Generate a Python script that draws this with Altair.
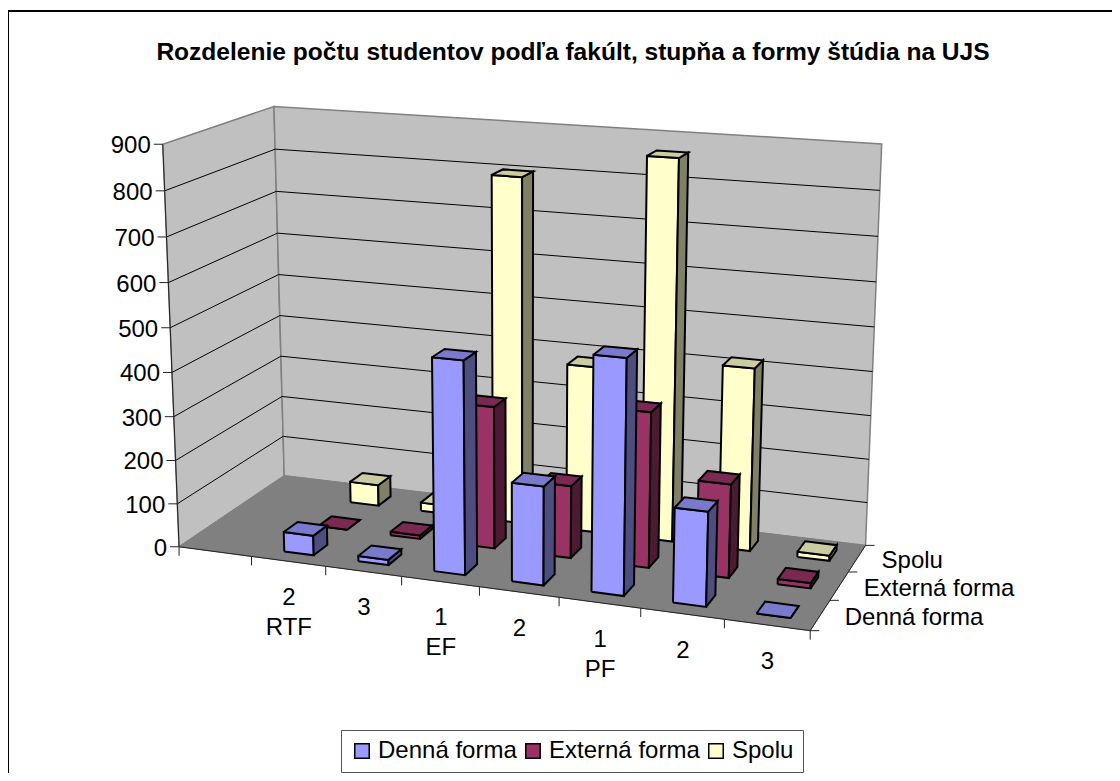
import altair as alt
import numpy as np
import pandas as pd

# ---- data ----
categories = ["", "2", "3", "1", "2", "1", "2", "3"]
groups = ["", "RTF", "", "EF", "", "PF", "", ""]
series_names = ["Denná forma", "Externá forma", "Spolu"]
denna = [None, 45, 12, 476, 220, 515, 207, 0]
externa = [None, 0, 8, 325, 165, 350, 210, 12]
spolu = [None, 50, 20, 800, 385, 865, 417, 12]
y_ticks = [0, 100, 200, 300, 400, 500, 600, 700, 800, 900]
front_colors = ["#9999FF", "#993366", "#FFFFCC"]
top_colors = ["#7A7ACC", "#7A2952", "#CCCCA3"]
side_colors = ["#4D4D80", "#4D1A33", "#808066"]
title_text = "Rozdelenie počtu studentov podľa fakúlt, stupňa a formy štúdia na UJS"
FONT = "Liberation Sans"
FS = 24
H = 765
W = 1104

# ---- camera: fit a perspective projection on the box corners ----
box3d = [(0,0,900),(0,3,900),(0,3,0),(0,0,0),(8,3,0),(8,3,900),(8,0,0)]
box2d = [(162.7,144),(274,106.7),(284,476),(179.3,546.7),(865.7,545),(881.7,144),(810,631)]
A, b = [], []
for (u,v,w),(px,py) in zip(box3d, box2d):
    w1 = w/100
    A.append([u,v,w1,1,0,0,0,0,-px*u,-px*v,-px*w1]); b.append(px)
    A.append([0,0,0,0,u,v,w1,1,-py*u,-py*v,-py*w1]); b.append(py)
p = np.linalg.lstsq(np.array(A,float), np.array(b,float), rcond=None)[0]
P = np.append(p,1).reshape(3,4)
def proj(u,v,w):
    x = P @ np.array([u,v,w/100,1.0])
    return float(x[0]/x[2]), float(x[1]/x[2])

fid = 0
def add_face(rows, pts, fill):
    global fid
    for i,(u,v,w) in enumerate(list(pts)+[pts[0]]):
        x,y = proj(u,v,w)
        rows.append(dict(face=fid, i=i, px=x, py=y, fill=fill))
    fid += 1

X = alt.X("px:Q", scale=alt.Scale(domain=[8,8+W]), axis=None)
Y = alt.Y("py:Q", scale=alt.Scale(domain=[8+H,8]), axis=None)

def polys(rows, stroke, sw):
    return alt.Chart(pd.DataFrame(rows)).mark_line(filled=True, stroke=stroke, strokeWidth=sw, strokeJoin="miter", clip=False).encode(
        x=X, y=Y, detail="face:N", order="i:Q", fill=alt.Fill("fill:N", scale=None, legend=None))

def lines(rows, stroke, sw):
    return alt.Chart(pd.DataFrame(rows)).mark_line(stroke=stroke, strokeWidth=sw).encode(
        x=X, y=Y, detail="face:N", order="i:Q")

# walls and floor
wall_rows = []
add_face(wall_rows, [(0,0,0),(0,3,0),(0,3,900),(0,0,900)], "#C0C0C0")
add_face(wall_rows, [(0,3,0),(8,3,0),(8,3,900),(0,3,900)], "#C0C0C0")
floor_rows = []
add_face(floor_rows, [(0,0,0),(8,0,0),(8,3,0),(0,3,0)], "#808080")

# gridlines
grid_rows = []
for t in y_ticks[1:-1]:
    for i,(u,v) in enumerate([(0,0),(0,3),(8,3)]):
        x,y = proj(u,v,t); grid_rows.append(dict(face=t,i=i,px=x,py=y))

# axis lines and tick marks
axis_rows = []
def seg(a,b):
    global fid
    axis_rows.append(dict(face=fid,i=0,px=a[0],py=a[1]))
    axis_rows.append(dict(face=fid,i=1,px=b[0],py=b[1]))
    fid += 1
seg(proj(0,0,0),proj(0,0,900))
seg(proj(0,0,0),proj(8,0,0))
seg(proj(8,0,0),proj(8,3,0))
for t in y_ticks:
    x,y = proj(0,0,t); seg((x-9,y),(x,y))
for c in range(9):
    x,y = proj(c,0,0); seg((x,y),(x,y+9))
for s in range(4):
    x,y = proj(8,s,0); seg((x,y),(x+9,y))

# bars
bar_rows = []
table = [denna, externa, spolu]
for s in [2,1,0]:
    for c in range(1,8):
        val = table[s][c]
        u0,u1,v0,v1 = c+.3, c+.7, s+.3, s+.7
        add_face(bar_rows, [(u0,v0,0),(u1,v0,0),(u1,v0,val),(u0,v0,val)], front_colors[s])
        add_face(bar_rows, [(u1,v0,0),(u1,v1,0),(u1,v1,val),(u1,v0,val)], side_colors[s])
        add_face(bar_rows, [(u0,v0,val),(u1,v0,val),(u1,v1,val),(u0,v1,val)], top_colors[s])

# texts
y_lab = []
for t in y_ticks:
    x,y = proj(0,0,t); y_lab.append(dict(px=x-12,py=y+2,t=str(t)))
cat_lab = []
for c in range(1,8):
    x,y = proj(c+.5,0,0)
    cat_lab.append(dict(px=x+0.5,py=y+37,t=categories[c]))
    if groups[c]:
        cat_lab.append(dict(px=x+0.5,py=y+67,t=groups[c]))
ser_lab = []
for s,n in enumerate(series_names):
    x,y = proj(8,s+.5,0)
    ser_lab.append(dict(px=x+24.5,py=y+3,t=n))

def text(rows, align):
    return alt.Chart(pd.DataFrame(rows)).mark_text(font=FONT, fontSize=FS, align=align, baseline="middle", color="black").encode(x=X,y=Y,text="t:N")

# chart frame: only the top and left edges are inside the picture
frame_rows = [dict(face=0,i=0,px=8,py=8+H),dict(face=0,i=1,px=8,py=11),dict(face=0,i=2,px=8+W,py=11)]
frame = alt.Chart(pd.DataFrame(frame_rows)).mark_line(stroke="black", strokeWidth=2).encode(x=X,y=Y,detail="face:N",order="i:Q")

# legend carrier
legend_df = pd.DataFrame({"s": series_names, "px":[100.0]*3, "py":[100.0]*3})
legend_layer = alt.Chart(legend_df).mark_square(opacity=0).encode(
    x=X, y=Y,
    color=alt.Color("s:N", scale=alt.Scale(domain=series_names, range=front_colors),
        legend=alt.Legend(orient="none", legendX=333, legendY=722, direction="horizontal", columns=3, title=None,
            symbolType="square", symbolSize=210, symbolStrokeColor="black", symbolStrokeWidth=1.5, symbolOpacity=1,
            labelFont=FONT, labelFontSize=FS, labelColor="black", labelLimit=300, fillColor="white",
            strokeColor="#555555", padding=9, columnPadding=4, labelOffset=4, symbolOffset=0)))

chart = alt.layer(
    polys(wall_rows, "#808080", 1.5),
    polys(floor_rows, "#808080", 1),
    lines(grid_rows, "black", 1),
    lines(axis_rows, "#222222", 1),
    polys(bar_rows, "black", 2),
    text(y_lab, "right"),
    text(cat_lab, "center"),
    text(ser_lab, "left"),
    frame,
    legend_layer,
).properties(
    width=W, height=H, padding=0,
    autosize=alt.AutoSizeParams(type="none"),
    title=alt.TitleParams(title_text, font=FONT, fontSize=24.55, fontWeight="bold", anchor="middle", color="black", offset=0, dy=83, dx=13, baseline="bottom"),
).configure_view(stroke=None)

chart.save("out.html", embed_options={"renderer": "svg", "actions": False})
